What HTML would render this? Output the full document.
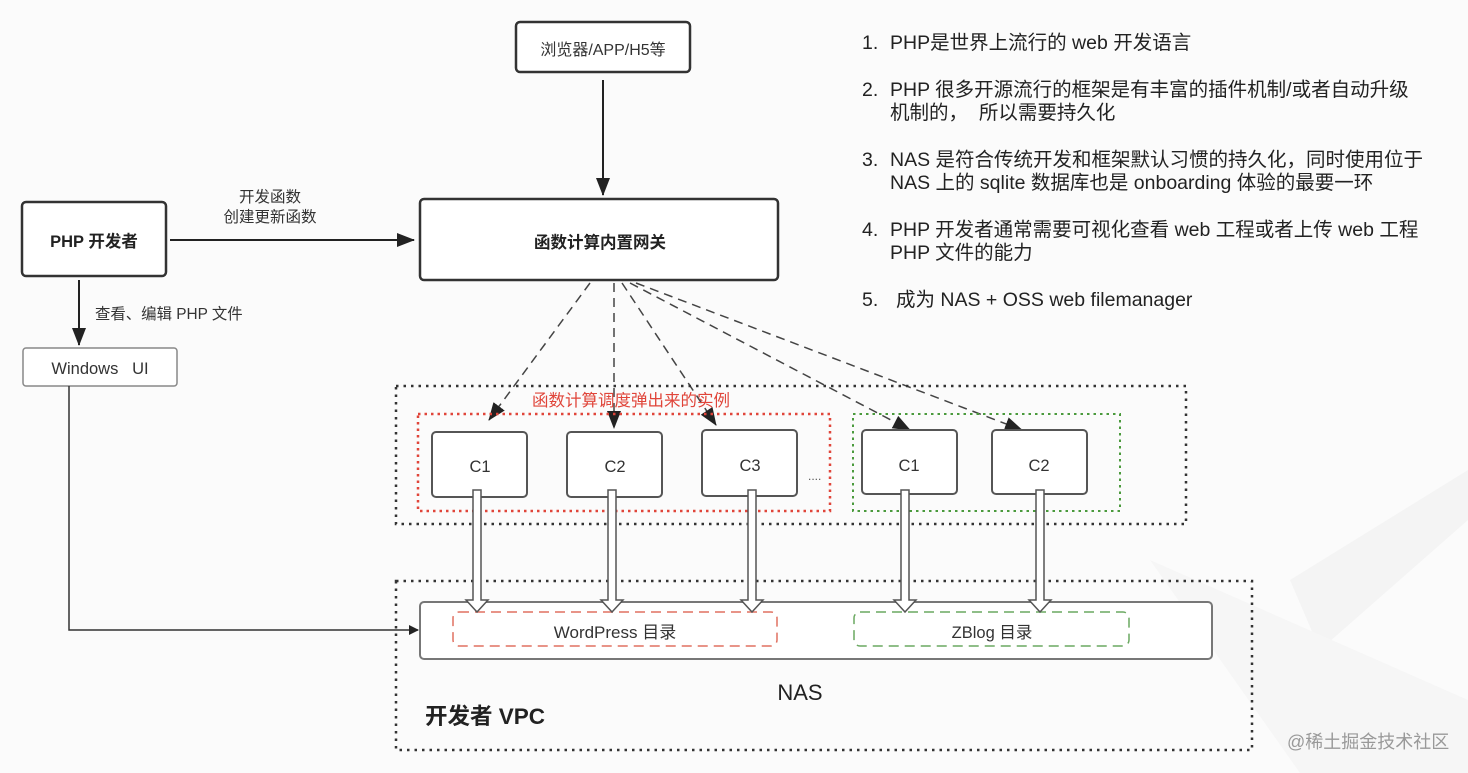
<!DOCTYPE html>
<html><head><meta charset="utf-8"><style>
html,body{margin:0;padding:0;background:#fbfbfb;}
svg{display:block;}
text{font-family:"Liberation Sans","Noto Sans CJK SC",sans-serif;}
</style></head><body>
<svg width="1468" height="773" viewBox="0 0 1468 773" xmlns="http://www.w3.org/2000/svg">
<defs>
<marker id="ah" markerWidth="10" markerHeight="10" refX="9" refY="5" orient="auto" markerUnits="userSpaceOnUse"><path d="M0,0 L10,5 L0,10 z" fill="#222"/></marker>
<marker id="ahb" markerWidth="18" markerHeight="14" refX="17" refY="7" orient="auto" markerUnits="userSpaceOnUse"><path d="M0,0 L18,7 L0,14 z" fill="#222"/></marker>
</defs>
<rect width="1468" height="773" fill="#fbfbfb"/>
<polygon points="1290,580 1468,470 1468,520 1320,650" fill="#f4f4f4"/>
<polygon points="1150,560 1468,700 1468,773 1300,773" fill="#f6f6f6"/>

<!-- browser -->
<rect x="516" y="22" width="174" height="50" rx="4" fill="#fff" stroke="#333" stroke-width="2.5"/>
<text x="603" y="55" font-size="16" text-anchor="middle" fill="#333">浏览器/APP/H5等</text>
<line x1="603" y1="80" x2="603" y2="195" stroke="#222" stroke-width="2" marker-end="url(#ahb)"/>

<!-- gateway -->
<rect x="420" y="199" width="358" height="81" rx="4" fill="#fff" stroke="#333" stroke-width="2.5"/>
<text x="600" y="248" font-size="16.5" font-weight="bold" text-anchor="middle" fill="#222">函数计算内置网关</text>

<!-- PHP dev -->
<rect x="22" y="202" width="144" height="74" rx="4" fill="#fff" stroke="#333" stroke-width="2.5"/>
<text x="94" y="247" font-size="16.5" font-weight="bold" text-anchor="middle" fill="#222">PHP 开发者</text>
<line x1="170" y1="240" x2="414" y2="240" stroke="#222" stroke-width="2" marker-end="url(#ahb)"/>
<text x="270" y="202" font-size="15.5" text-anchor="middle" fill="#333">开发函数</text>
<text x="270" y="222" font-size="15.5" text-anchor="middle" fill="#333">创建更新函数</text>

<line x1="79" y1="280" x2="79" y2="345" stroke="#222" stroke-width="2" marker-end="url(#ahb)"/>
<text x="95" y="319" font-size="15.4" fill="#333">查看、编辑 PHP 文件</text>

<rect x="23" y="348" width="154" height="38" rx="3" fill="#fff" stroke="#888" stroke-width="1.5"/>
<text x="100" y="374" font-size="16.5" text-anchor="middle" fill="#333" xml:space="preserve">Windows   UI</text>
<polyline points="69,386 69,630 418,630" fill="none" stroke="#333" stroke-width="1.5" marker-end="url(#ah)"/>

<!-- dashed arrows -->
<g stroke="#444" stroke-width="1.5" stroke-dasharray="9,6" fill="none">
<line x1="590" y1="283" x2="489" y2="420" marker-end="url(#ahb)"/>
<line x1="614" y1="283" x2="614" y2="428" marker-end="url(#ahb)"/>
<line x1="622" y1="283" x2="716" y2="425" marker-end="url(#ahb)"/>
<line x1="630" y1="283" x2="910" y2="430" marker-end="url(#ahb)"/>
<line x1="636" y1="283" x2="1022" y2="430" marker-end="url(#ahb)"/>
</g>

<!-- outer instance box -->
<rect x="396" y="386" width="790" height="138" fill="none" stroke="#333" stroke-width="2.5" stroke-dasharray="2.5,5"/>
<rect x="418" y="414" width="412" height="97" fill="none" stroke="#e0453a" stroke-width="2.5" stroke-dasharray="2.5,4"/>
<text x="631" y="406" font-size="16.5" text-anchor="middle" fill="#e0453a">函数计算调度弹出来的实例</text>
<rect x="853" y="414" width="267" height="97" fill="none" stroke="#4a9a3c" stroke-width="2" stroke-dasharray="2.5,4"/>

<g fill="#fff" stroke="#555" stroke-width="2">
<rect x="432" y="432" width="95" height="65" rx="4"/>
<rect x="567" y="432" width="95" height="65" rx="4"/>
<rect x="702" y="430" width="95" height="66" rx="4"/>
<rect x="862" y="430" width="95" height="64" rx="4"/>
<rect x="992" y="430" width="95" height="64" rx="4"/>
</g>
<g font-size="16.5" text-anchor="middle" fill="#333">
<text x="480" y="472">C1</text>
<text x="615" y="472">C2</text>
<text x="750" y="471">C3</text>
<text x="909" y="471">C1</text>
<text x="1039" y="471">C2</text>
</g>
<text x="808" y="480" font-size="12" fill="#555">....</text>

<!-- VPC -->
<rect x="396" y="581" width="856" height="169" fill="none" stroke="#333" stroke-width="2.5" stroke-dasharray="2.5,5"/>
<rect x="420" y="602" width="792" height="57" rx="4" fill="#fff" stroke="#777" stroke-width="2"/>
<rect x="453" y="612" width="324" height="34" rx="6" fill="none" stroke="#e07060" stroke-width="1.5" stroke-dasharray="10,6"/>
<text x="615" y="638" font-size="17" text-anchor="middle" fill="#333">WordPress 目录</text>
<rect x="854" y="612" width="275" height="34" rx="6" fill="none" stroke="#6aa860" stroke-width="1.5" stroke-dasharray="10,6"/>
<text x="992" y="638" font-size="16.5" text-anchor="middle" fill="#333">ZBlog 目录</text>
<text x="800" y="700" font-size="22" text-anchor="middle" fill="#222">NAS</text>
<text x="425" y="724" font-size="22.5" font-weight="bold" fill="#222">开发者 VPC</text>

<!-- hollow arrows -->
<g fill="#fff" stroke="#555" stroke-width="1.5">
<polygon points="473,490 481,490 481,600 488,600 477,612 466,600 473,600"/>
<polygon points="608,490 616,490 616,600 623,600 612,612 601,600 608,600"/>
<polygon points="748,490 756,490 756,600 763,600 752,612 741,600 748,600"/>
<polygon points="901,490 909,490 909,600 916,600 905,612 894,600 901,600"/>
<polygon points="1036,490 1044,490 1044,600 1051,600 1040,612 1029,600 1036,600"/>
</g>

<!-- right text -->
<g font-size="19.5" fill="#222">
<text x="862" y="49">1.</text><text x="890" y="49">PHP是世界上流行的 web 开发语言</text>
<text x="862" y="96">2.</text><text x="890" y="96">PHP 很多开源流行的框架是有丰富的插件机制/或者自动升级</text>
<text x="890" y="119" xml:space="preserve">机制的，  所以需要持久化</text>
<text x="862" y="166">3.</text><text x="890" y="166">NAS 是符合传统开发和框架默认习惯的持久化，同时使用位于</text>
<text x="890" y="189">NAS 上的 sqlite 数据库也是 onboarding 体验的最要一环</text>
<text x="862" y="236">4.</text><text x="890" y="236">PHP 开发者通常需要可视化查看 web 工程或者上传 web 工程</text>
<text x="890" y="259">PHP 文件的能力</text>
<text x="862" y="306">5.</text><text x="896" y="306">成为 NAS + OSS web filemanager</text>
</g>
<text x="1287" y="748" font-size="18" fill="#999">@稀土掘金技术社区</text>
</svg>
</body></html>
